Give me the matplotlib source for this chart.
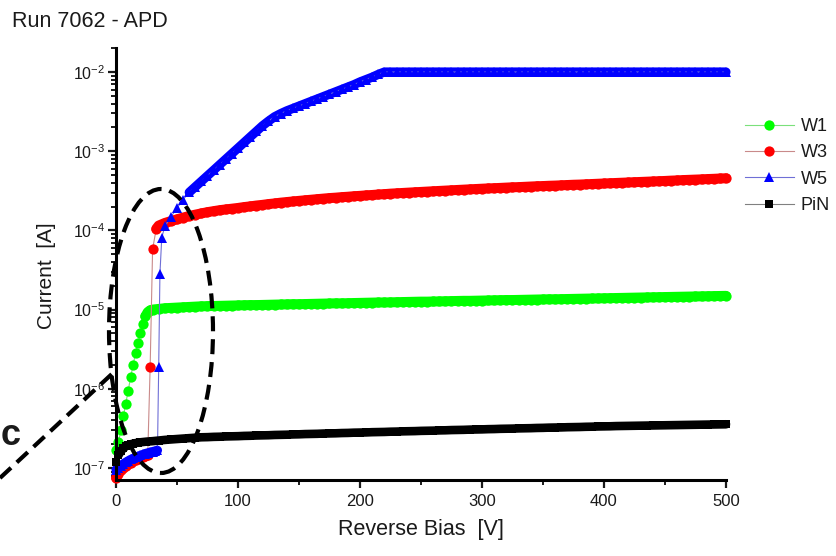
import matplotlib
matplotlib.use("Agg")
import matplotlib.pyplot as plt
from matplotlib.patches import Ellipse
from matplotlib.lines import Line2D
from matplotlib.ticker import FixedLocator, LogLocator, NullFormatter, FuncFormatter
import numpy as np

plt.rcParams['font.family'] = ['Liberation Sans', 'DejaVu Sans']
plt.rcParams['mathtext.default'] = 'regular'

# ---------------- data (currents in microampere) ----------------
series_names = ["W1", "W3", "W5", "PiN"]

w1_V = [0, 2, 4, 6, 8, 10, 12, 14, 16, 18, 20, 22, 24, 26, 28] + list(range(30, 505, 5))
w1_uA = [0.17, 0.21, 0.30, 0.45, 0.65, 0.95, 1.4, 2.0, 2.8, 3.8, 5.0, 6.6, 8.2, 9.3, 9.8,
         10.0, 10.2, 10.4, 10.5, 10.6, 10.7, 10.8, 10.9, 11.0, 11.05, 11.1, 11.15, 11.2, 11.25,
         11.3, 11.35, 11.4, 11.4, 11.45, 11.5, 11.55, 11.6, 11.65, 11.7, 11.7, 11.75, 11.8,
         11.85, 11.9, 11.95, 12.0, 12.0, 12.05, 12.1, 12.15, 12.2, 12.25, 12.3, 12.3, 12.35,
         12.4, 12.45, 12.5, 12.55, 12.6, 12.6, 12.65, 12.7, 12.75, 12.8, 12.85, 12.9, 12.9,
         12.95, 13.0, 13.05, 13.1, 13.15, 13.2, 13.2, 13.25, 13.3, 13.35, 13.4, 13.45, 13.5,
         13.5, 13.55, 13.6, 13.65, 13.7, 13.75, 13.8, 13.85, 13.9, 13.95, 14.0, 14.05, 14.1,
         14.15, 14.2, 14.25, 14.3, 14.35, 14.4, 14.45, 14.5, 14.55, 14.6, 14.65, 14.7, 14.75,
         14.8, 14.85, 14.9]

w3_V = [0, 2, 4, 6, 8, 10, 12, 14, 16, 18, 20, 22, 24, 26, 28, 30, 33] + list(range(35, 505, 5))
w3_uA = [0.075, 0.085, 0.093, 0.100, 0.106, 0.112, 0.117, 0.122, 0.127, 0.131, 0.135, 0.138,
         0.141, 0.144, 1.9, 58, 105,
         115, 124, 131, 138, 145, 152, 158, 164, 170, 175, 180, 184, 188, 192, 197, 201, 206,
         210, 215, 219, 224, 228, 232, 236, 240, 244, 248, 252, 256, 259, 263, 266, 270, 273,
         277, 280, 284, 287, 291, 294, 297, 300, 303, 306, 309, 312, 315, 318, 321, 324, 327,
         330, 333, 336, 339, 341, 344, 347, 350, 352, 355, 358, 361, 363, 366, 368, 371, 374,
         377, 379, 382, 385, 388, 391, 394, 397, 400, 403, 406, 409, 412, 415, 418, 421, 425,
         428, 432, 435, 438, 441, 445, 448, 452, 455]

w5_V = [0, 2, 4, 6, 8, 10, 12, 14, 16, 18, 20, 22, 24, 26, 28, 30, 32, 34, 35, 36, 37.5] + list(range(40, 505, 5))
w5_uA = [0.095, 0.100, 0.107, 0.113, 0.118, 0.123, 0.128, 0.132, 0.136, 0.140, 0.144, 0.148,
         0.152, 0.155, 0.158, 0.161, 0.164, 0.167, 1.9, 28, 81,
         112, 148, 191, 245, 302, 355, 417, 490, 575, 676, 794, 933, 1096, 1288, 1514, 1778,
         2089, 2399, 2723, 2985, 3236, 3467, 3715, 3981, 4266, 4571, 4898, 5248, 5623, 6026,
         6457, 6918, 7499, 8035, 8610, 9333, 10000,
         10000, 10000, 10000, 10000, 10000, 10000, 10000, 10000, 10000, 10000, 10000, 10000,
         10000, 10000, 10000, 10000, 10000, 10000, 10000, 10000, 10000, 10000, 10000, 10000,
         10000, 10000, 10000, 10000, 10000, 10000, 10000, 10000, 10000, 10000, 10000, 10000,
         10000, 10000, 10000, 10000, 10000, 10000, 10000, 10000, 10000, 10000, 10000, 10000,
         10000, 10000, 10000, 10000, 10000, 10000, 10000, 10000]

pin_V = [0, 2, 4, 6, 8, 10, 12, 14, 16, 18] + list(range(20, 505, 5))
pin_uA = [0.120, 0.145, 0.163, 0.177, 0.187, 0.194, 0.199, 0.203, 0.206, 0.209,
          0.211, 0.215, 0.218, 0.222, 0.226, 0.229, 0.232, 0.235, 0.238, 0.241, 0.244, 0.245,
          0.247, 0.248, 0.250, 0.251, 0.252, 0.254, 0.255, 0.257, 0.258, 0.259, 0.261, 0.262,
          0.263, 0.265, 0.266, 0.268, 0.269, 0.270, 0.272, 0.273, 0.274, 0.276, 0.277, 0.279,
          0.280, 0.281, 0.283, 0.284, 0.285, 0.287, 0.288, 0.290, 0.291, 0.292, 0.294, 0.295,
          0.296, 0.298, 0.299, 0.301, 0.302, 0.303, 0.305, 0.306, 0.307, 0.309, 0.310, 0.312,
          0.313, 0.314, 0.316, 0.317, 0.318, 0.320, 0.321, 0.323, 0.324, 0.325, 0.327, 0.328,
          0.329, 0.331, 0.332, 0.334, 0.335, 0.336, 0.338, 0.339, 0.340, 0.341, 0.342, 0.343,
          0.344, 0.345, 0.346, 0.347, 0.348, 0.349, 0.350, 0.351, 0.352, 0.353, 0.354, 0.355,
          0.356]

x_ticks = [0, 100, 200, 300, 400, 500]
y_decades = [-7, -6, -5, -4, -3, -2]

# ---------------- figure ----------------
W, H = 837, 556
fig = plt.figure(figsize=(W / 100, H / 100), dpi=100)
ax = fig.add_axes([116 / W, 1 - 480 / H, 610 / W, 432 / H])

styles = [
    dict(marker='o', ms=7.4, mfc='#00ff00', mec='#00ff00', color='#7be07b', band='#00ff00', bw=7.2),
    dict(marker='o', ms=7.4, mfc='#ff0000', mec='#ff0000', color='#c98a8a', band='#ff0000', bw=7.2),
    dict(marker='^', ms=7.8, mfc='#0000ff', mec='#0000ff', color='#6f6fd6', band='#0000ff', bw=6.6),
    dict(marker='s', ms=6.0, mfc='#000000', mec='#000000', color='#808080', band='#000000', bw=6.2),
]
data = [(w1_V, w1_uA), (w3_V, w3_uA), (w5_V, w5_uA), (pin_V, pin_uA)]
handles = []
for z, ((v, i), st, name) in enumerate(zip(data, styles, series_names)):
    assert len(v) == len(i), (name, len(v), len(i))
    st = dict(st)
    band_c = st.pop('band')
    bw = st.pop('bw')
    v = np.asarray(v, float)
    cur = np.asarray(i, float) * 1e-6
    # dense measurement points merge into a solid band: draw the same data as a
    # thick line, broken wherever consecutive points are far apart on the log scale
    lg = np.log10(cur)
    brk = np.where(np.abs(np.diff(lg)) > 0.08)[0] + 1
    vb = np.insert(v, brk, np.nan)
    cb = np.insert(cur, brk, np.nan)
    ax.plot(vb, cb, color=band_c, lw=bw, solid_capstyle='round', solid_joinstyle='round',
            zorder=2 + z, clip_on=False)
    ln, = ax.plot(v, cur, lw=0.8, mew=0, label=name, clip_on=False, zorder=2 + z, **st)
    handles.append(ln)

ax.set_yscale('log')
ax.set_xlim(0, 500)
ax.set_ylim(10 ** -7.152, 10 ** -1.697)

for s in ['top', 'right']:
    ax.spines[s].set_visible(False)
for s in ['left', 'bottom']:
    ax.spines[s].set_linewidth(2.2)
    ax.spines[s].set_zorder(8)

ax.xaxis.set_major_locator(FixedLocator(x_ticks))
ax.xaxis.set_minor_locator(FixedLocator([50, 150, 250, 350, 450]))
ax.yaxis.set_major_locator(FixedLocator([10.0 ** d for d in y_decades]))
ax.yaxis.set_minor_locator(LogLocator(base=10, subs=np.arange(2, 10)))
ax.yaxis.set_minor_formatter(NullFormatter())
ax.yaxis.set_major_formatter(FuncFormatter(lambda y, p: r'10$^{%d}$' % round(np.log10(y))))

ax.tick_params(axis='both', which='major', direction='out', length=6, width=1.6,
               colors='#1a1a1a')
ax.tick_params(axis='both', which='minor', direction='out', length=3.6, width=1.4,
               colors='#1a1a1a')
ax.tick_params(axis='x', which='major', labelsize=12, pad=4)
ax.tick_params(axis='y', which='major', labelsize=11.5, pad=2)

ax.set_xlabel('Reverse Bias  [V]', fontsize=15.5, color='#1a1a1a', labelpad=7)
ax.set_ylabel('Current  [A]', fontsize=15, color='#1a1a1a')
ax.yaxis.set_label_coords((56 - 116) / 610, (480 - 276) / 432)

fig.text(12 / W, 1 - 27 / H, 'Run 7062 - APD', fontsize=15.5, color='#1a1a1a',
         ha='left', va='baseline')

leg = fig.legend(handles=handles, loc='upper left', bbox_to_anchor=(745 / W, 1 - 118 / H),
                 frameon=False, fontsize=13, handlelength=2.7, handletextpad=0.4,
                 labelspacing=0.52, borderpad=0, borderaxespad=0)
for t in leg.get_texts():
    t.set_color('#1a1a1a')

# dashed ellipse annotation and leader line
ell = Ellipse((161 / W, 1 - 331 / H), 104 / W, 284 / H, transform=fig.transFigure,
              fill=False, ec='black', lw=3.0, ls=(0, (3.6, 1.9)), zorder=10)
fig.patches.append(ell)
fig.add_artist(Line2D([0, 114 / W], [1 - 478 / H, 1 - 372 / H], transform=fig.transFigure,
                      color='black', lw=3.0, ls=(0, (3.6, 1.9))))
fig.text(1 / W, 1 - 445 / H, 'c', fontsize=26, fontweight='bold', color='#1a1a1a',
         ha='left', va='baseline')

fig.savefig('out.png', dpi=100)
